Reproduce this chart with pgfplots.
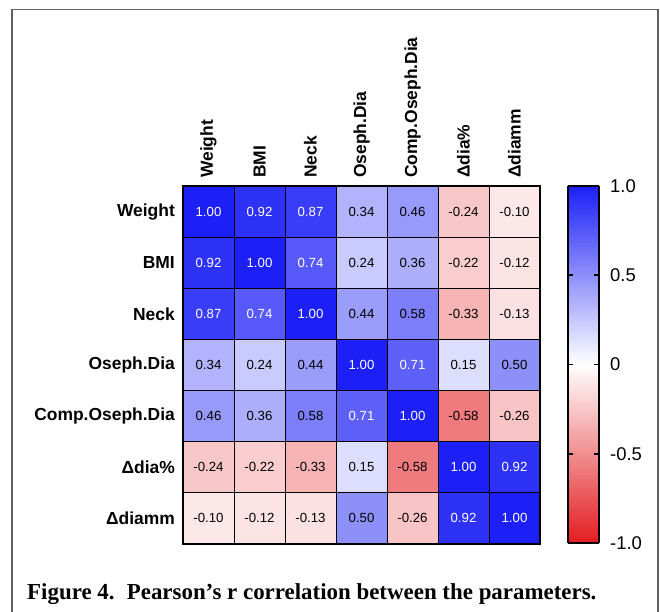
\documentclass[border=0pt]{standalone}
\usepackage{pgfplots}
\pgfplotsset{compat=1.18}
\usepackage{pgfplotstable}
\usepackage{fontspec}
\setmainfont{Liberation Sans}
\newfontfamily\capfont{Liberation Serif}
\definecolor{framegray}{gray}{0.38}
\pgfplotstableread{
x y c
0 0 1.00
1 0 0.92
2 0 0.87
3 0 0.34
4 0 0.46
5 0 -0.24
6 0 -0.10
0 1 0.92
1 1 1.00
2 1 0.74
3 1 0.24
4 1 0.36
5 1 -0.22
6 1 -0.12
0 2 0.87
1 2 0.74
2 2 1.00
3 2 0.44
4 2 0.58
5 2 -0.33
6 2 -0.13
0 3 0.34
1 3 0.24
2 3 0.44
3 3 1.00
4 3 0.71
5 3 0.15
6 3 0.50
0 4 0.46
1 4 0.36
2 4 0.58
3 4 0.71
4 4 1.00
5 4 -0.58
6 4 -0.26
0 5 -0.24
1 5 -0.22
2 5 -0.33
3 5 0.15
4 5 -0.58
5 5 1.00
6 5 0.92
0 6 -0.10
1 6 -0.12
2 6 -0.13
3 6 0.50
4 6 -0.26
5 6 0.92
6 6 1.00
}\corr
% labels printed in white (dark cells)
\pgfplotstableread{
x y c
0 0 1.00
1 0 0.92
2 0 0.87
0 1 0.92
1 1 1.00
2 1 0.74
0 2 0.87
1 2 0.74
2 2 1.00
3 3 1.00
4 3 0.71
3 4 0.71
4 4 1.00
5 5 1.00
6 5 0.92
5 6 0.92
6 6 1.00
}\whitelab
% labels printed in black (light cells)
\pgfplotstableread{
x y c
3 0 0.34
4 0 0.46
5 0 -0.24
6 0 -0.10
3 1 0.24
4 1 0.36
5 1 -0.22
6 1 -0.12
3 2 0.44
4 2 0.58
5 2 -0.33
6 2 -0.13
0 3 0.34
1 3 0.24
2 3 0.44
5 3 0.15
6 3 0.50
0 4 0.46
1 4 0.36
2 4 0.58
5 4 -0.58
6 4 -0.26
0 5 -0.24
1 5 -0.22
2 5 -0.33
3 5 0.15
4 5 -0.58
0 6 -0.10
1 6 -0.12
2 6 -0.13
3 6 0.50
4 6 -0.26
}\blacklab
\begin{document}
\begin{tikzpicture}[x=1bp,y=1bp]
\path[use as bounding box] (0,0) rectangle (660,612);
\draw[framegray, line width=1.8bp] (12,-40) -- (12,602.5) -- (658,602.5) -- (658,-40);
\begin{axis}[
  at={(183bp,68bp)}, anchor=south west,
  scale only axis, width=357bp, height=358bp,
  xmin=-0.5, xmax=6.5, ymin=-0.5, ymax=6.5,
  y dir=reverse,
  axis on top,
  axis line style={line width=2bp},
  xtick={0,...,6}, ytick={0,...,6},
  xticklabels={Weight,BMI,Neck,Oseph.Dia,Comp.Oseph.Dia,Δdia\%,Δdiamm},
  yticklabels={Weight,BMI,Neck,Oseph.Dia,Comp.Oseph.Dia,Δdia\%,Δdiamm},
  major tick length=0pt,
  xticklabel pos=upper,
  xticklabel style={rotate=90, anchor=west, inner xsep=8bp, inner ysep=0pt, font=\fontsize{17.5}{20}\selectfont\bfseries},
  yticklabel style={anchor=east, inner sep=0pt, font=\fontsize{17.5}{20}\selectfont\bfseries, xshift=-8bp},
  colormap={rwb}{rgb255=(227,28,32) rgb255=(255,255,255) rgb255=(28,32,246)},
  point meta min=-1, point meta max=1,
  colorbar sampled,
  colorbar style={
    samples=161,
    at={(1.0784,1)}, anchor=north west,
    width=31bp, height=357bp,
    axis line style={line width=2bp},
    ytick={-1,-0.5,0,0.5,1},
    yticklabels={-1.0,-0.5,0,0.5,1.0},
    ytick pos=both, yticklabel pos=right,
    tick align=inside,
    major tick length=5bp,
    major tick style={line width=1.5bp, black},
    yticklabel style={anchor=west, inner sep=0pt, font=\fontsize{18.5}{20}\selectfont, xshift=11bp},
  },
]
\addplot[matrix plot*, mesh/cols=7, point meta=explicit, draw=black, line width=0.9bp]
  table[x=x, y=y, meta=c] {\corr};
\addplot[only marks, mark=none, point meta=explicit symbolic,
  nodes near coords, nodes near coords align=center,
  every node near coord/.append style={font=\fontsize{13.3}{15}\selectfont, inner sep=0pt, anchor=center, text=white}]
  table[x=x, y=y, meta=c] {\whitelab};
\addplot[only marks, mark=none, point meta=explicit symbolic,
  nodes near coords, nodes near coords align=center,
  every node near coord/.append style={font=\fontsize{13.3}{15}\selectfont, inner sep=0pt, anchor=center, text=black}]
  table[x=x, y=y, meta=c] {\blacklab};
\end{axis}
\node[anchor=base west, inner sep=0pt, font=\capfont\bfseries\fontsize{23}{26}\selectfont] at (27,12)
  {Figure 4.\hspace{0.2em} Pearson’s r correlation between the parameters.};
\end{tikzpicture}
\end{document}
